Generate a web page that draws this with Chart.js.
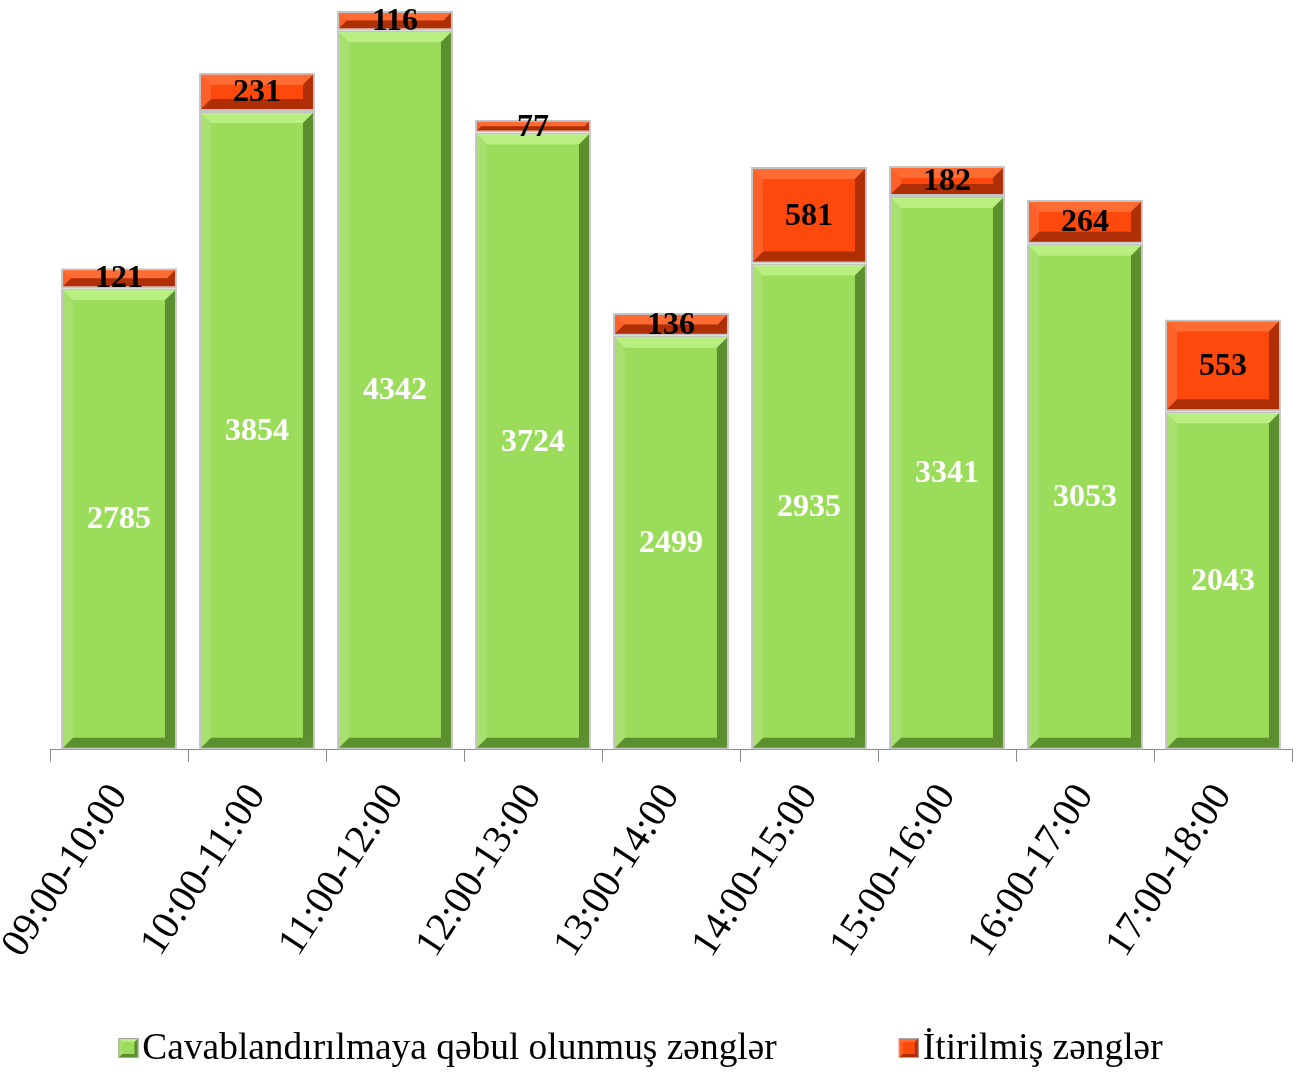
<!DOCTYPE html>
<html>
<head>
<meta charset="utf-8">
<script src="https://cdn.jsdelivr.net/npm/chart.js@4.4.1/dist/chart.umd.min.js"></script>
<style>
  html, body { margin: 0; padding: 0; background: #fff; }
  #wrap { width: 1301px; height: 1072px; }
</style>
</head>
<body>
<div id="wrap"><canvas id="chart"></canvas></div>
<script>
const saatlar = ["09:00-10:00", "10:00-11:00", "11:00-12:00", "12:00-13:00", "13:00-14:00",
                 "14:00-15:00", "15:00-16:00", "16:00-17:00", "17:00-18:00"];
const cavablanan = [2785, 3854, 4342, 3724, 2499, 2935, 3341, 3053, 2043];
const itirilen = [121, 231, 116, 77, 136, 581, 182, 264, 553];

const serif = "'Liberation Serif', 'Times New Roman', serif";

const tones = [
  { fill: "#9bdc5a", light: "rgba(210,255,160,0.55)", dark: "rgba(40,80,10,0.55)", text: "#ffffff" },
  { fill: "#fd4a0c", light: "rgba(255,150,100,0.45)", dark: "rgba(110,25,0,0.55)", text: "#000000" }
];

function bevel(ctx, l, t, r, b, s, tone) {
  const poly = (pts, c) => {
    ctx.beginPath();
    ctx.moveTo(pts[0][0], pts[0][1]);
    pts.slice(1).forEach(q => ctx.lineTo(q[0], q[1]));
    ctx.closePath();
    ctx.fillStyle = c;
    ctx.fill();
  };
  poly([[l, t], [r, t], [r - s, t + s], [l + s, t + s]], tone.light);
  poly([[r, t], [r, b], [r - s, b - s], [r - s, t + s]], tone.dark);
  poly([[l, b], [r, b], [r - s, b - s], [l + s, b - s]], tone.dark);
  poly([[l, t], [l + s, t + s], [l + s, b - s], [l, b]], "rgba(255,255,255,0.12)");
}

// relyef effekti + reqemler
const bevelPlugin = {
  id: "bevel",
  afterDatasetsDraw(chart) {
    const ctx = chart.ctx;
    chart.data.datasets.forEach((ds, di) => {
      chart.getDatasetMeta(di).data.forEach(bar => {
        const p = bar.getProps(["x", "y", "base", "width"], true);
        const l = p.x - p.width / 2 + 2, r = p.x + p.width / 2 - 2;
        const t = Math.min(p.y, p.base) + 2, b = Math.max(p.y, p.base) - 2;
        ctx.save();
        bevel(ctx, l, t, r, b, Math.min(10, (b - t) / 2), tones[di]);
        ctx.restore();
      });
    });
    chart.data.datasets.forEach((ds, di) => {
      chart.getDatasetMeta(di).data.forEach((bar, i) => {
        const p = bar.getProps(["x", "y", "base"], true);
        ctx.save();
        ctx.font = "bold 32px " + serif;
        ctx.fillStyle = tones[di].text;
        ctx.textAlign = "center";
        ctx.textBaseline = "middle";
        ctx.fillText(ds.data[i], p.x, (p.y + p.base) / 2 + 1);
        ctx.restore();
      });
    });
  }
};

// asagida legend (Excel kimi genis aralıqla)
const legendPlugin = {
  id: "altLegend",
  afterDraw(chart) {
    const ctx = chart.ctx;
    const box = 20, gap = 4, between = 122;
    ctx.save();
    ctx.font = "37.4px " + serif;
    const items = chart.data.datasets.map((ds, i) => ({
      text: ds.label, tone: tones[i], w: box + gap + ctx.measureText(ds.label).width
    }));
    const total = items.reduce((a, it) => a + it.w, 0) + between * (items.length - 1);
    let x = (chart.width - total) / 2 - 10;
    const y = chart.height - 24;
    items.forEach(it => {
      ctx.fillStyle = it.tone.fill;
      ctx.fillRect(x, y - box / 2, box, box);
      bevel(ctx, x, y - box / 2, x + box, y + box / 2, 4, it.tone);
      ctx.strokeStyle = "#a6a6a6";
      ctx.lineWidth = 1;
      ctx.strokeRect(x + 0.5, y - box / 2 + 0.5, box - 1, box - 1);
      ctx.fillStyle = "#000";
      ctx.textAlign = "left";
      ctx.textBaseline = "middle";
      ctx.fillText(it.text, x + box + gap, y + 1);
      x += it.w + between;
    });
    ctx.restore();
  }
};

new Chart(document.getElementById("chart"), {
  type: "bar",
  data: {
    labels: saatlar,
    datasets: [
      {
        label: "Cavablandırılmaya qəbul olunmuş zənglər",
        data: cavablanan,
        backgroundColor: tones[0].fill,
        borderColor: "#c4c4c4",
        borderWidth: 2,
        borderSkipped: false
      },
      {
        label: "İtirilmiş zənglər",
        data: itirilen,
        backgroundColor: tones[1].fill,
        borderColor: "#c4c4c4",
        borderWidth: 2,
        borderSkipped: false
      }
    ]
  },
  options: {
    responsive: true,
    maintainAspectRatio: false,
    animation: false,
    layout: { padding: { left: 50, right: 9, top: 4, bottom: 92 } },
    datasets: { bar: { categoryPercentage: 1, barPercentage: 0.84 } },
    scales: {
      x: {
        stacked: true,
        afterFit(scale) { scale.paddingLeft = 0; scale.paddingRight = 0; },
        grid: { display: true, drawOnChartArea: false, drawTicks: true, tickLength: 12, color: "#8c8c8c", offset: true },
        border: { display: true, color: "#8c8c8c", width: 1 },
        ticks: {
          color: "#000",
          font: { family: serif, size: 40 },
          minRotation: 57,
          maxRotation: 57,
          padding: 14
        }
      },
      y: {
        stacked: true,
        display: false,
        min: 0,
        max: 4500
      }
    },
    plugins: {
      legend: { display: false },
      tooltip: { enabled: false }
    }
  },
  plugins: [bevelPlugin, legendPlugin]
});
</script>
</body>
</html>
